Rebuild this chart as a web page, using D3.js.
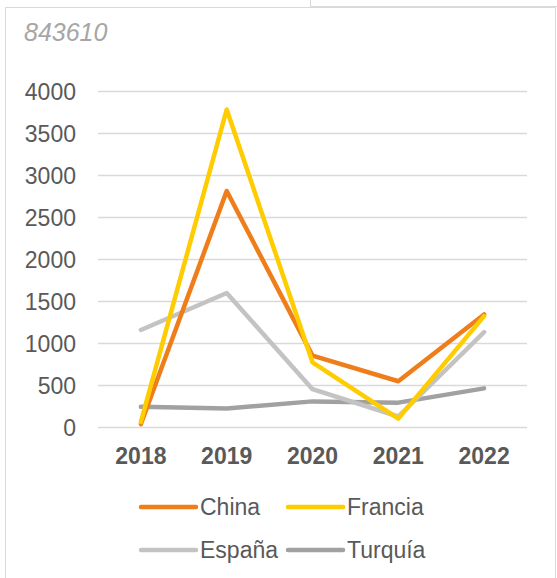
<!DOCTYPE html>
<html>
<head>
<meta charset="utf-8">
<script src="https://cdn.jsdelivr.net/npm/d3@7"></script>
<style>
  body { margin: 0; background: #fff; }
  text { font-family: "Liberation Sans", Arial, sans-serif; }
</style>
</head>
<body>
<script>
'use strict';

const years = ["2018", "2019", "2020", "2021", "2022"];
const seriesNames = ["China", "Francia", "España", "Turquía"];
const china = [35, 2810, 850, 545, 1340];
const francia = [60, 3780, 770, 100, 1320];
const espana = [1155, 1595, 450, 125, 1130];
const turquia = [240, 220, 305, 290, 460];
const yTicks = [0, 500, 1000, 1500, 2000, 2500, 3000, 3500, 4000];
const colors = ["#EE7D1A", "#FFCC00", "#C3C3C3", "#A1A1A1"];

(function () {
  const width = 557, height = 578;
  const svg = d3.select('body').append('svg')
    .attr('width', width)
    .attr('height', height);

  // frame lines like the source sheet
  svg.append('path')
    .attr('d', 'M310.5,0 V6.5 H557')
    .attr('fill', 'none')
    .attr('stroke', '#d9d9d9');
  svg.append('path')
    .attr('d', 'M5.5,578 V7.5 H555.5 V578')
    .attr('fill', 'none')
    .attr('stroke', '#d9d9d9');

  svg.append('text')
    .attr('x', 24)
    .attr('y', 41)
    .style('font-size', '25px')
    .style('font-style', 'italic')
    .attr('fill', '#a6a6a6')
    .text('843610');

  const x = d3.scaleBand().domain(years).range([98, 527]);
  const y = d3.scaleLinear().domain([0, 4000]).range([427, 91]);

  // gridlines
  svg.append('g')
    .selectAll('line')
    .data(yTicks)
    .enter()
    .append('line')
    .attr('x1', 98)
    .attr('x2', 527)
    .attr('y1', d => Math.round(y(d)) + 0.5)
    .attr('y2', d => Math.round(y(d)) + 0.5)
    .attr('stroke', '#d9d9d9')
    .attr('stroke-width', 1.3);

  // y axis labels
  const yAxis = d3.axisLeft(y).tickValues(yTicks).tickFormat(d3.format('d'))
    .tickSize(0).tickPadding(22);
  const gy = svg.append('g')
    .attr('transform', 'translate(98, 0)')
    .call(yAxis);
  gy.select('.domain').remove();
  gy.selectAll('text')
    .style('font-size', '23px')
    .attr('fill', '#595959')
    .attr('dy', '0.35em');

  // x axis labels
  const xAxis = d3.axisBottom(x).tickSize(0).tickPadding(0);
  const gx = svg.append('g')
    .attr('transform', 'translate(0, 427)')
    .call(xAxis);
  gx.select('.domain').remove();
  gx.selectAll('text')
    .attr('y', 37)
    .attr('dy', 0)
    .style('font-size', '23px')
    .style('font-weight', 'bold')
    .attr('fill', '#595959');

  const series = [china, francia, espana, turquia];
  const line = d3.line()
    .x((d, i) => x(years[i]) + x.bandwidth() / 2)
    .y(d => y(d));

  // back to front
  const order = [3, 2, 0, 1];
  order.forEach(function (k) {
    svg.append('path')
      .datum(series[k])
      .attr('fill', 'none')
      .attr('stroke', colors[k])
      .attr('stroke-width', 4.5)
      .attr('stroke-linejoin', 'round')
      .attr('stroke-linecap', 'round')
      .attr('d', line);
  });

  // legend
  const legendPos = [[141, 507], [288, 507], [141, 550], [288, 550]];
  seriesNames.forEach(function (name, k) {
    const p = legendPos[k];
    svg.append('line')
      .attr('x1', p[0]).attr('x2', p[0] + 55)
      .attr('y1', p[1]).attr('y2', p[1])
      .attr('stroke', colors[k])
      .attr('stroke-width', 4.5)
      .attr('stroke-linecap', 'round');
    svg.append('text')
      .attr('x', p[0] + 59)
      .attr('y', p[1])
      .attr('dy', '0.35em')
      .style('font-size', '23px')
      .attr('fill', '#595959')
      .text(name);
  });
})();
</script>
</body>
</html>
